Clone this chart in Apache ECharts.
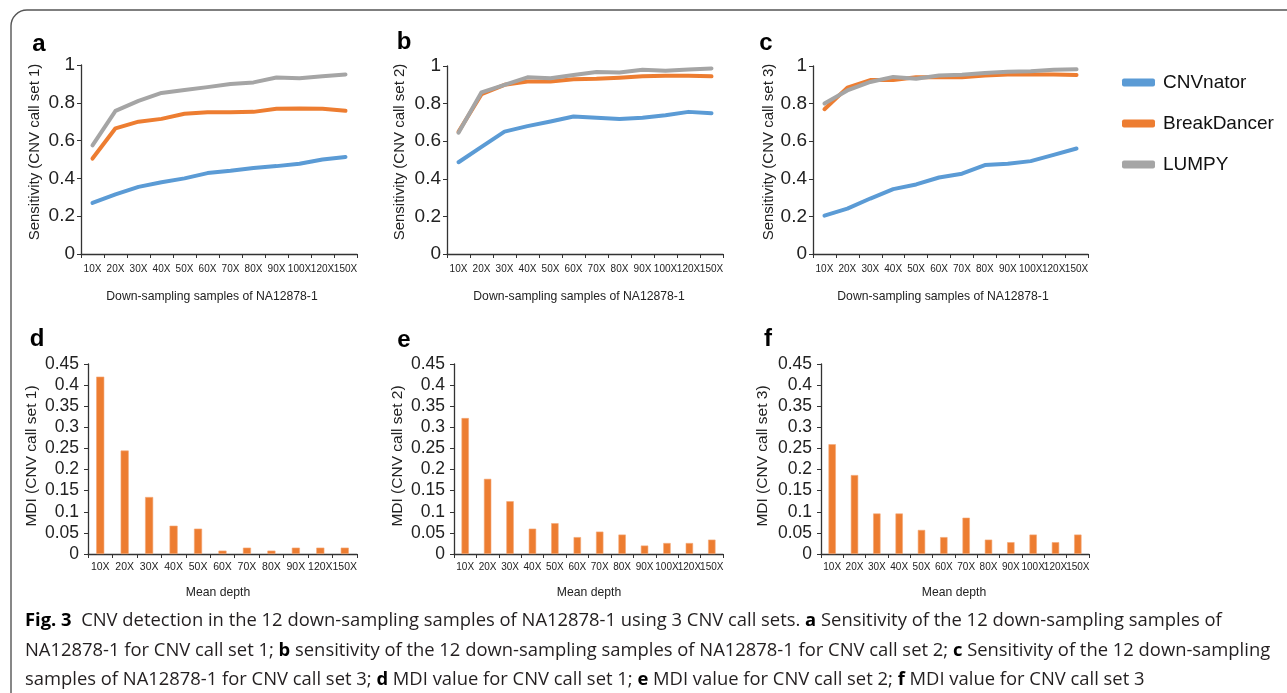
<!DOCTYPE html>
<html>
<head>
<meta charset="utf-8">
<script src="https://cdn.jsdelivr.net/npm/echarts@6/dist/echarts.min.js"></script>
<style>
html,body{margin:0;padding:0;background:#fff;}
#chart{width:1287px;height:693px;}
</style>
</head>
<body>
<div id="chart"></div>
<script>
// ---- data ----
const catsLine = ['10X','20X','30X','40X','50X','60X','70X','80X','90X','100X','120X','150X'];
const catsBarD = ['10X','20X','30X','40X','50X','60X','70X','80X','90X','120X','150X'];
const catsBarEF = ['10X','20X','30X','40X','50X','60X','70X','80X','90X','100X','120X','150X'];
const seriesNames = ['CNVnator','BreakDancer','LUMPY'];

const set1CNVnator    = [0.27, 0.315, 0.355, 0.38, 0.40, 0.428, 0.44, 0.455, 0.465, 0.478, 0.50, 0.513];
const set1BreakDancer = [0.505, 0.665, 0.70, 0.715, 0.742, 0.75, 0.75, 0.752, 0.768, 0.77, 0.768, 0.758];
const set1LUMPY       = [0.575, 0.757, 0.81, 0.852, 0.868, 0.883, 0.90, 0.908, 0.934, 0.93, 0.94, 0.95];

const set2CNVnator    = [0.488, 0.57, 0.651, 0.68, 0.705, 0.731, 0.725, 0.718, 0.725, 0.738, 0.756, 0.749];
const set2BreakDancer = [0.65, 0.85, 0.90, 0.918, 0.918, 0.93, 0.932, 0.938, 0.945, 0.948, 0.948, 0.945];
const set2LUMPY       = [0.645, 0.86, 0.90, 0.94, 0.935, 0.952, 0.968, 0.965, 0.98, 0.975, 0.982, 0.987];

const set3CNVnator    = [0.204, 0.241, 0.295, 0.345, 0.37, 0.407, 0.427, 0.473, 0.48, 0.494, 0.527, 0.561];
const set3BreakDancer = [0.77, 0.885, 0.925, 0.925, 0.94, 0.94, 0.94, 0.95, 0.955, 0.955, 0.955, 0.952];
const set3LUMPY       = [0.80, 0.87, 0.915, 0.942, 0.932, 0.95, 0.953, 0.963, 0.97, 0.972, 0.98, 0.983];

const mdiSet1 = [0.42, 0.245, 0.135, 0.067, 0.06, 0.008, 0.015, 0.008, 0.015, 0.015, 0.015];
const mdiSet2 = [0.322, 0.178, 0.125, 0.06, 0.073, 0.04, 0.053, 0.046, 0.02, 0.026, 0.026, 0.034];
const mdiSet3 = [0.26, 0.187, 0.096, 0.096, 0.057, 0.04, 0.086, 0.034, 0.028, 0.046, 0.028, 0.046];

const sensTicks = [0, 0.2, 0.4, 0.6, 0.8, 1];
const mdiTicks = [0, 0.05, 0.1, 0.15, 0.2, 0.25, 0.3, 0.35, 0.4, 0.45];

// ---- style ----
const colors = ['#5B9BD5', '#ED7D31', '#A5A5A5'];
const barColor = '#ED7D31';
const axisColor = '#333';
const F = 'Liberation Sans, Arial, sans-serif';

const grids = [
  {left: 81,  top: 65,  width: 276, height: 189},
  {left: 447, top: 66,  width: 276, height: 188},
  {left: 813, top: 66,  width: 275, height: 188},
  {left: 88,  top: 364, width: 269, height: 190},
  {left: 454, top: 364, width: 269, height: 190},
  {left: 821, top: 364, width: 268, height: 190}
];

const lineSets = [
  [set1CNVnator, set1BreakDancer, set1LUMPY],
  [set2CNVnator, set2BreakDancer, set2LUMPY],
  [set3CNVnator, set3BreakDancer, set3LUMPY]
];
const barSets = [mdiSet1, mdiSet2, mdiSet3];
const barCats = [catsBarD, catsBarEF, catsBarEF];

const xAxes = [], yAxes = [], series = [];
for (let i = 0; i < 6; i++) {
  const isLine = i < 3;
  xAxes.push({
    type: 'category', gridIndex: i,
    data: isLine ? catsLine : barCats[i - 3],
    boundaryGap: true,
    axisLine: {lineStyle: {color: axisColor, width: 1.3}},
    axisTick: {show: true, length: 4, interval: 0, lineStyle: {color: axisColor}},
    axisLabel: {interval: 0, fontFamily: F, fontSize: i === 3 ? 10.5 : 10, color: '#222', margin: isLine ? 10 : 8}
  });
  const ticks = isLine ? sensTicks : mdiTicks;
  yAxes.push({
    type: 'value', gridIndex: i,
    min: ticks[0], max: ticks[ticks.length - 1], interval: ticks[1] - ticks[0],
    splitLine: {show: false},
    axisLine: {show: true, lineStyle: {color: axisColor, width: 1.3}},
    axisTick: {show: true, length: 4, lineStyle: {color: axisColor}},
    axisLabel: {fontFamily: F, fontSize: isLine ? 19 : 17.5, color: '#222', margin: isLine ? 6 : 9}
  });
}
lineSets.forEach((set, gi) => {
  set.forEach((vals, si) => {
    series.push({
      type: 'line', name: seriesNames[si], xAxisIndex: gi, yAxisIndex: gi,
      data: vals, showSymbol: false, symbol: 'none',
      lineStyle: {color: colors[si], width: 4, cap: 'round', join: 'round'},
      itemStyle: {color: colors[si]}
    });
  });
});
barSets.forEach((vals, bi) => {
  series.push({
    type: 'bar', xAxisIndex: 3 + bi, yAxisIndex: 3 + bi,
    data: vals, barWidth: '33%',
    itemStyle: {color: barColor, borderColor: '#F4A777', borderWidth: 0.6}
  });
});

// ---- texts ----
const letters = [['a', 39, 44], ['b', 404, 42], ['c', 766, 43], ['d', 37, 339], ['e', 404, 340], ['f', 768, 339]];
const yTitles = [
  ['Sensitivity (CNV call set 1)', 35, 152],
  ['Sensitivity (CNV call set 2)', 400, 152],
  ['Sensitivity (CNV call set 3)', 769, 152],
  ['MDI (CNV call set 1)', 32, 456],
  ['MDI (CNV call set 2)', 398, 456],
  ['MDI (CNV call set 3)', 763, 456]
];
const xTitles = [
  ['Down-sampling samples of NA12878-1', 212, 297],
  ['Down-sampling samples of NA12878-1', 579, 297],
  ['Down-sampling samples of NA12878-1', 943, 297],
  ['Mean depth', 218, 593],
  ['Mean depth', 589, 593],
  ['Mean depth', 954, 593]
];
const captionLines = [
  '{b|Fig. 3}  CNV detection in the 12 down-sampling samples of NA12878-1 using 3 CNV call sets. {b|a} Sensitivity of the 12 down-sampling samples of',
  'NA12878-1 for CNV call set 1; {b|b} sensitivity of the 12 down-sampling samples of NA12878-1 for CNV call set 2; {b|c} Sensitivity of the 12 down-sampling',
  'samples of NA12878-1 for CNV call set 3; {b|d} MDI value for CNV call set 1; {b|e} MDI value for CNV call set 2; {b|f} MDI value for CNV call set 3'
];
const CF = 'Open Sans, Lato, sans-serif';
const CS = 18.4;

const graphic = [];
graphic.push({type: 'rect', shape: {x: 11, y: 10, width: 1300, height: 720, r: 16},
  style: {fill: 'none', stroke: '#555', lineWidth: 1.4}, silent: true});
letters.forEach(([t, x, y]) => graphic.push({type: 'text', x, y,
  style: {text: t, font: 'bold 24px ' + F, fill: '#000', align: 'center', verticalAlign: 'middle'}}));
yTitles.forEach(([t, x, y], i) => graphic.push({type: 'text', x, y, rotation: Math.PI / 2,
  style: {text: t, font: (i < 3 ? '15px ' : '15.5px ') + F, fill: '#222', align: 'center', verticalAlign: 'middle'}}));
xTitles.forEach(([t, x, y]) => graphic.push({type: 'text', x, y,
  style: {text: t, font: '12.2px ' + F, fill: '#222', align: 'center', verticalAlign: 'middle'}}));
captionLines.forEach((t, i) => graphic.push({type: 'text', x: 25, y: 621 + i * 29.5,
  style: {text: t, font: CS + 'px ' + CF, fill: '#231f20', align: 'left', verticalAlign: 'middle',
    rich: {b: {fontFamily: CF, fontSize: CS, fontWeight: 'bold', fill: '#000'}}}}));

const chart = echarts.init(document.getElementById('chart'), null, {renderer: 'canvas'});
chart.setOption({
  animation: false,
  backgroundColor: '#fff',
  grid: grids.map(g => Object.assign({containLabel: false}, g)),
  xAxis: xAxes,
  yAxis: yAxes,
  legend: {
    data: seriesNames, orient: 'vertical', left: 1122, top: 73, padding: 0,
    icon: 'roundRect', itemWidth: 33, itemHeight: 8, itemGap: 22,
    textStyle: {fontFamily: F, fontSize: 19, color: '#111', padding: [0, 0, 0, 3]}
  },
  series: series,
  graphic: graphic
});
</script>
</body>
</html>
